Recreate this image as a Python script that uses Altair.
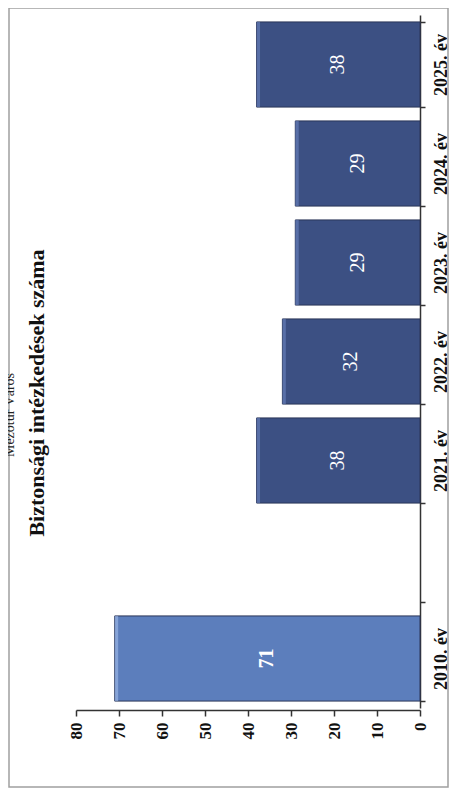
import altair as alt
import pandas as pd

# ---- data ----
categories = ["2010. év", " ", "2021. év", "2022. év", "2023. év", "2024. év", "2025. év"]
values = [71, None, 38, 32, 29, 29, 38]
x_ticks = [0, 10, 20, 30, 40, 50, 60, 70, 80]
title_text = "Biztonsági intézkedések száma"
subtitle_text = "Mezőtúr Város"

df = pd.DataFrame({"category": categories, "value": values})
bars_df = df.dropna().copy()
cat_order = list(reversed(categories))  # 2025 at top, 2010 at bottom

SERIF = "Liberation Serif"

x_enc = alt.X(
    "value:Q",
    scale=alt.Scale(domain=[0, 80], reverse=True, nice=False),
    axis=alt.Axis(
        values=x_ticks, title=None, grid=False, orient="bottom",
        labelAngle=270, labelAlign="right", labelBaseline="middle",
        labelFont=SERIF, labelFontWeight="bold", labelFontSize=17,
        labelColor="#111111", domainColor="#333333", tickColor="#333333",
        tickSize=6, labelPadding=6, offset=2, domainWidth=1.5, tickWidth=1.5,
    ),
)
y_enc = alt.Y(
    "category:N",
    scale=alt.Scale(domain=cat_order, paddingInner=0.14, paddingOuter=0.07),
    axis=alt.Axis(
        title=None, orient="right", labelAngle=270, labelAlign="center",
        labelBaseline="top", tickBand="extent", tickSize=5, labelPadding=7,
        labelFont=SERIF, labelFontWeight="bold", labelFontSize=18,
        labelColor="#111111", domainColor="#333333", tickColor="#333333",
        domainWidth=1.5, tickWidth=1.5,
    ),
)

is_2010 = "datum.category == '2010. év'"

bars = alt.Chart(bars_df).mark_bar(stroke="#2a3558", strokeWidth=1).encode(
    x=x_enc,
    y=y_enc,
    color=alt.condition(is_2010, alt.value("#5c7ebc"), alt.value("#3c5083")),
)

# light bevel strip on the outer (left) end of each bar
bevel = alt.Chart(bars_df).transform_calculate(
    inner="datum.value - 0.8"
).mark_bar(opacity=0.55).encode(
    x=alt.X("value:Q"),
    x2="inner:Q",
    y=alt.Y("category:N"),
    color=alt.condition(is_2010, alt.value("#a9c2ee"), alt.value("#7089c4")),
)

def bar_labels(flt, weight):
    return alt.Chart(bars_df).transform_filter(flt).transform_calculate(
        mid="datum.value / 2"
    ).mark_text(
        angle=270, align="center", baseline="middle", font=SERIF, fontSize=20,
        color="white", fontWeight=weight,
    ).encode(
        x=alt.X("mid:Q"),
        y=alt.Y("category:N"),
        text=alt.Text("value:Q", format="d"),
    )

labels_bold = bar_labels(is_2010, "bold")
labels_norm = bar_labels("!(" + is_2010 + ")", "normal")

one = pd.DataFrame({"t": [title_text], "s": [subtitle_text]})

frame = alt.Chart(one).mark_rect(filled=False, stroke="#a0a0a0", strokeWidth=1.5).encode(
    x=alt.value(-67), x2=alt.value(372), y=alt.value(-7), y2=alt.value(772)
)

title = alt.Chart(one).mark_text(
    angle=270, align="center", baseline="middle", font=SERIF, fontSize=22,
    fontWeight="bold", color="#111111",
).encode(text="t:N", x=alt.value(-39), y=alt.value(378))

subtitle = alt.Chart(one).mark_text(
    angle=270, align="center", baseline="middle", font=SERIF, fontSize=14,
    color="#222222",
).encode(text="s:N", x=alt.value(-66), y=alt.value(400))

chart = alt.layer(frame, bars, bevel, labels_bold, labels_norm, title, subtitle).properties(
    width=344, height=693,
    padding={"left": 68, "top": 7, "right": 30, "bottom": 80},
    autosize=alt.AutoSizeParams(type="none"),
    background="white",
).configure_view(stroke=None)

chart.save("out.html", embed_options={"renderer": "svg", "actions": False})
